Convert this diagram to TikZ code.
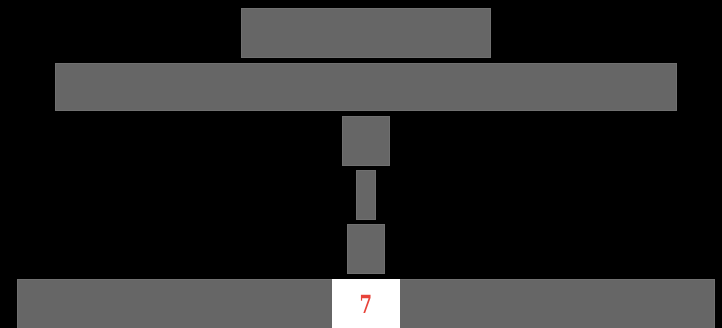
\documentclass[tikz,border=0pt]{standalone}
\usepackage{fontspec}
\setmainfont{DejaVu Serif}
\definecolor{boxgrey}{HTML}{666666}
\definecolor{edgegrey}{HTML}{707070}
\definecolor{numred}{HTML}{E8433A}
\begin{document}
\begin{tikzpicture}[x=1pt,y=-1pt,
  blk/.style={fill=boxgrey,draw=edgegrey,line width=0.6pt},
  cell/.style={fill=white,draw=none}]
\fill[black] (0,0) rectangle (722,328);
\useasboundingbox (0,0) rectangle (722,328);
\draw[blk] (241,8.5) rectangle (490,57) coordinate (b1);
\draw[blk] (55,63) rectangle (676,110) coordinate (b2);
\draw[blk] (342,116) rectangle (389.5,165) coordinate (b3);
\draw[blk] (356,170) rectangle (375,219) coordinate (b4);
\draw[blk] (347,224) rectangle (384,273) coordinate (b5);
\draw[blk] (17,279) rectangle (714.5,329) coordinate (b6);
\fill[cell] (332,279) rectangle (399.5,329);
\node[text=numred,font=\fontsize{25}{27}\selectfont\bfseries,inner sep=0pt,xscale=0.72] (n7) at (366,304.5) {7};
\end{tikzpicture}
\end{document}
